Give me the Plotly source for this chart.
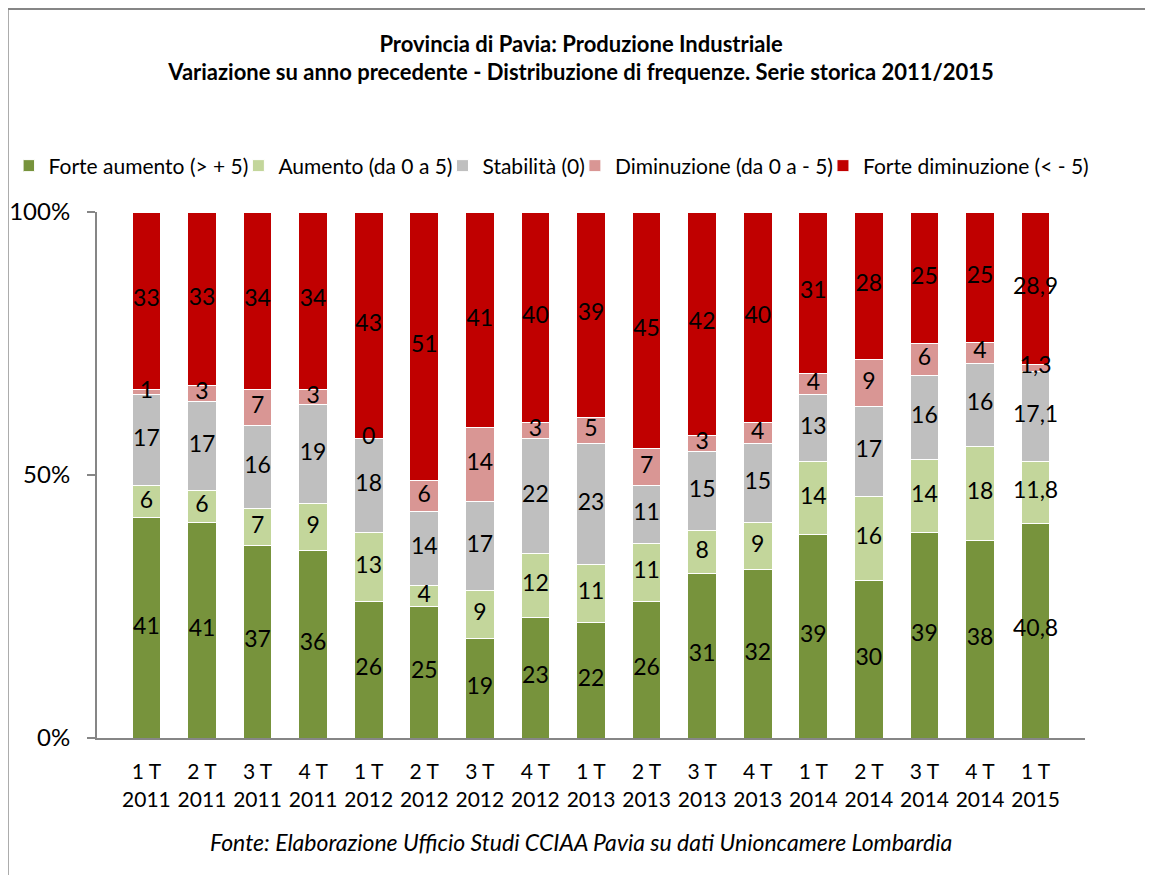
import plotly.graph_objects as go

categories = ["1 T<br>2011", "2 T<br>2011", "3 T<br>2011", "4 T<br>2011",
              "1 T<br>2012", "2 T<br>2012", "3 T<br>2012", "4 T<br>2012",
              "1 T<br>2013", "2 T<br>2013", "3 T<br>2013", "4 T<br>2013",
              "1 T<br>2014", "2 T<br>2014", "3 T<br>2014", "4 T<br>2014",
              "1 T<br>2015"]

forte_aumento = [41, 41, 37, 36, 26, 25, 19, 23, 22, 26, 31, 32, 39, 30, 39, 38, 40.8]
aumento = [6, 6, 7, 9, 13, 4, 9, 12, 11, 11, 8, 9, 14, 16, 14, 18, 11.8]
stabilita = [17, 17, 16, 19, 18, 14, 17, 22, 23, 11, 15, 15, 13, 17, 16, 16, 17.1]
diminuzione = [1, 3, 7, 3, 0, 6, 14, 3, 5, 7, 3, 4, 4, 9, 6, 4, 1.3]
forte_diminuzione = [33, 33, 34, 34, 43, 51, 41, 40, 39, 45, 42, 40, 31, 28, 25, 25, 28.9]

series = [
    ("Forte aumento (> + 5)", forte_aumento, "#77933C"),
    ("Aumento (da 0 a 5)", aumento, "#C3D69B"),
    ("Stabilità (0)", stabilita, "#BFBFBF"),
    ("Diminuzione (da 0 a - 5)", diminuzione, "#D99694"),
    ("Forte diminuzione (< - 5)", forte_diminuzione, "#C00000"),
]

FONT = "Lato"
LABEL_SIZE = 23


def fmt(v):
    return ("%g" % v).replace(".", ",")


fig = go.Figure()
for name, vals, color in series:
    fig.add_trace(go.Bar(
        x=categories, y=vals, name=name,
        marker=dict(color=color, line=dict(color="white", width=1)),
        hoverinfo="name+y",
    ))

# data labels: centred on each (normalised) segment, drawn above all bars
totals = [sum(s[1][i] for s in series) for i in range(len(categories))]
lx, ly, lt = [], [], []
for si, (name, vals, color) in enumerate(series):
    for i, v in enumerate(vals):
        cum = sum(series[k][1][i] for k in range(si))
        lx.append(categories[i])
        ly.append((cum + v / 2) / totals[i] * 100)
        lt.append(fmt(v))
fig.add_trace(go.Scatter(
    x=lx, y=ly, text=lt, mode="text", showlegend=False, hoverinfo="skip",
    textfont=dict(family=FONT, size=LABEL_SIZE, color="black"),
))

fig.update_layout(
    barmode="stack",
    barnorm="percent",
    bargap=0.484,
    width=1153, height=875,
    paper_bgcolor="white", plot_bgcolor="white",
    margin=dict(l=89, r=76, t=204, b=145, autoexpand=False),
    title=dict(
        text="<b>Provincia di Pavia: Produzione Industriale<br>Variazione su anno precedente - Distribuzione di frequenze. Serie storica 2011/2015</b>",
        x=0.497, xanchor="center", y=0.950, yanchor="middle",
        font=dict(family=FONT, size=22, color="black"),
    ),
    legend=dict(
        orientation="h", x=-0.0743, xanchor="left",
        y=1.0875, yanchor="middle",
        font=dict(family=FONT, size=21, color="black"),
        traceorder="normal", itemwidth=30, indentation=-15,
        bgcolor="rgba(0,0,0,0)",
    ),
    showlegend=True,
    font=dict(family=FONT, color="black"),
    xaxis=dict(
        showline=True, linecolor="#868686", linewidth=2,
        ticks="", ticklabelstandoff=14,
        tickfont=dict(family=FONT, size=21, color="black"),
    ),
    yaxis=dict(
        range=[0, 100], tickvals=[0, 50, 100], ticktext=["0%", "50%", "100%"],
        showline=True, linecolor="#868686", linewidth=2,
        ticks="outside", ticklen=8, tickcolor="#868686", tickwidth=2,
        ticklabelstandoff=12,
        showgrid=False, zeroline=False,
        tickfont=dict(family=FONT, size=24, color="black"),
    ),
)

fig.add_annotation(
    text="<i>Fonte: Elaborazione Ufficio Studi CCIAA Pavia su dati Unioncamere Lombardia</i>",
    xref="paper", yref="paper", x=0.49, y=-0.198, showarrow=False,
    xanchor="center", yanchor="middle",
    font=dict(family=FONT, size=23, color="black"),
)

# outer chart frame (partially cropped in the picture)
fig.add_shape(type="rect", xref="paper", yref="paper",
              x0=-0.0904, x1=1.3, y0=-0.5, y1=1.386,
              line=dict(color="#868686", width=2), fillcolor="rgba(0,0,0,0)",
              layer="below")

fig.write_html("out.html")
